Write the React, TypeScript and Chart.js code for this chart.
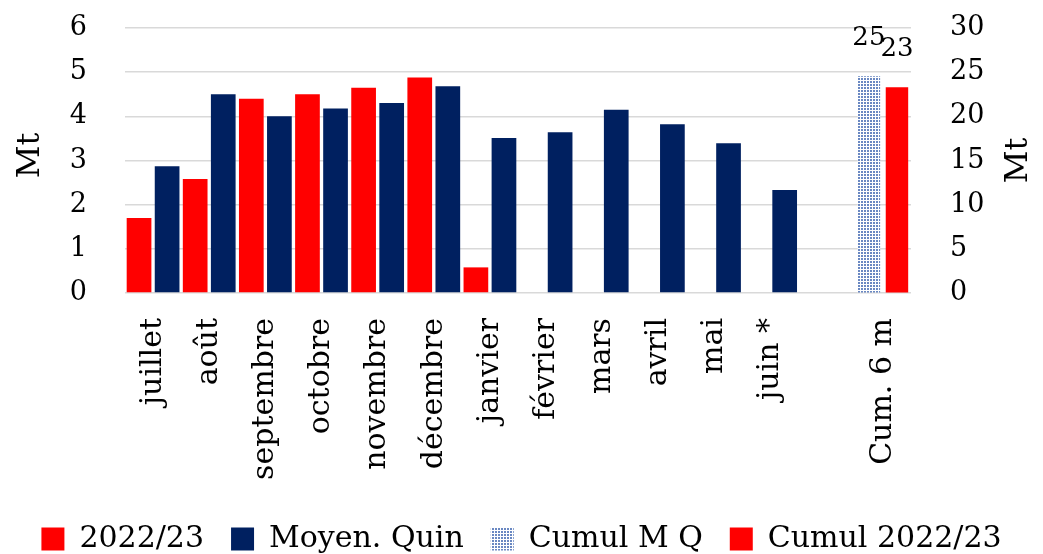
import React, { useEffect, useRef } from 'react';
import { Chart, registerables } from 'chart.js';

Chart.register(...registerables);

const categories = ['juillet', 'août', 'septembre', 'octobre', 'novembre', 'décembre', 'janvier', 'février', 'mars', 'avril', 'mai', 'juin *', '', 'Cum. 6 m'];
const prod2022 = [1.7, 2.58, 4.4, 4.5, 4.65, 4.88, 0.58, null, null, null, null, null, null, null];
const moyenQuin = [2.87, 4.5, 4.0, 4.18, 4.3, 4.68, 3.51, 3.64, 4.15, 3.82, 3.39, 2.33, null, null];
const cumulMQ = [null, null, null, null, null, null, null, null, null, null, null, null, null, 24.53];
const cumul2022 = [null, null, null, null, null, null, null, null, null, null, null, null, null, 23.29];
const seriesNames = ['2022/23', 'Moyen. Quin', 'Cumul M Q', 'Cumul 2022/23'];
const axisTitle = 'Mt';

const FONT = "'DejaVu Serif', serif";
const CLEAR = 'rgba(0,0,0,0)';

export default function App() {
  const ref = useRef<HTMLCanvasElement>(null);

  useEffect(() => {
    const canvas = ref.current;
    if (!canvas) return;
    const pc = document.createElement('canvas');
    pc.width = 3;
    pc.height = 3;
    const pctx = pc.getContext('2d')!;
    pctx.fillStyle = '#ffffff';
    pctx.fillRect(0, 0, 3, 3);
    pctx.fillStyle = '#6a88c2';
    pctx.fillRect(0, 0, 2, 2);
    const pattern = canvas.getContext('2d')!.createPattern(pc, 'repeat')!;

    const extras = {
      id: 'extras',
      afterDatasetsDraw(chart: any) {
        const ctx = chart.ctx;
        ctx.save();
        ctx.fillStyle = '#000';
        ctx.font = `26px ${FONT}`;
        ctx.textAlign = 'center';
        ctx.textBaseline = 'alphabetic';
        [2, 3].forEach((di) => {
          const meta = chart.getDatasetMeta(di);
          meta.data.forEach((el: any, i: number) => {
            const v = chart.data.datasets[di].data[i];
            if (v == null) return;
            ctx.fillText(String(Math.round(v)), el.x, el.y - 31);
          });
        });
        ctx.font = `32px ${FONT}`;
        ctx.textBaseline = 'middle';
        const cy = (chart.chartArea.top + chart.chartArea.bottom) / 2;
        const spots = [
          [31, cy - 5],
          [1019, cy],
        ];
        spots.forEach(([x, y]) => {
          ctx.save();
          ctx.translate(x, y);
          ctx.rotate(-Math.PI / 2);
          ctx.fillText(axisTitle, 0, 0);
          ctx.restore();
        });
        ctx.restore();
      },
    };

    const chart = new Chart(canvas, {
      type: 'bar',
      data: {
        labels: categories,
        datasets: [
          { label: seriesNames[0], data: prod2022 as any, backgroundColor: '#ff0000', yAxisID: 'y', stack: 'a', barPercentage: 0.88, categoryPercentage: 1.0 },
          { label: seriesNames[1], data: moyenQuin as any, backgroundColor: '#002060', yAxisID: 'y', stack: 'b', barPercentage: 0.88, categoryPercentage: 1.0 },
          { label: seriesNames[2], data: cumulMQ as any, backgroundColor: pattern as any, yAxisID: 'y1', stack: 'a', barPercentage: 0.8, categoryPercentage: 1.0 },
          { label: seriesNames[3], data: cumul2022 as any, backgroundColor: '#ff0000', yAxisID: 'y1', stack: 'b', barPercentage: 0.8, categoryPercentage: 1.0 },
        ],
      },
      options: {
        animation: false,
        responsive: true,
        maintainAspectRatio: false,
        layout: { padding: { top: 28, bottom: -10, left: 0, right: 0 } },
        font: { family: FONT },
        plugins: {
          tooltip: { enabled: false },
          legend: {
            position: 'bottom',
            labels: {
              boxWidth: 23,
              boxHeight: 23,
              padding: 27,
              color: '#000',
              font: { size: 30, family: FONT },
            },
          },
        },
        scales: {
          x: {
            offset: true,
            grid: { display: false, drawTicks: false },
            border: { display: false },
            ticks: {
              autoSkip: false,
              minRotation: 90,
              maxRotation: 90,
              padding: 25,
              color: '#000',
              font: { size: 30, family: FONT },
            },
            afterFit(s: any) {
              s.height = 204;
            },
          },
          y: {
            position: 'left',
            min: 0,
            max: 6,
            stacked: false,
            ticks: { stepSize: 1, padding: 3, color: '#000', font: { size: 27, family: FONT } },
            grid: { color: '#d9d9d9', lineWidth: 1.5, drawTicks: true, tickLength: 35, tickColor: CLEAR },
            border: { display: false },
            afterFit(s: any) {
              s.width = 125;
            },
          },
          y1: {
            position: 'right',
            min: 0,
            max: 30,
            stacked: false,
            ticks: { stepSize: 5, padding: 3, color: '#000', font: { size: 27, family: FONT } },
            grid: { display: true, drawOnChartArea: false, color: CLEAR, drawTicks: true, tickLength: 36, tickColor: CLEAR },
            border: { display: false },
            afterFit(s: any) {
              s.width = 132;
            },
          },
        },
      },
      plugins: [extras],
    });

    return () => chart.destroy();
  }, []);

  return (
    <div style={{ position: 'fixed', left: 0, top: 0, width: 1043, height: 554, background: '#fff' }}>
      <canvas ref={ref} />
    </div>
  );
}
